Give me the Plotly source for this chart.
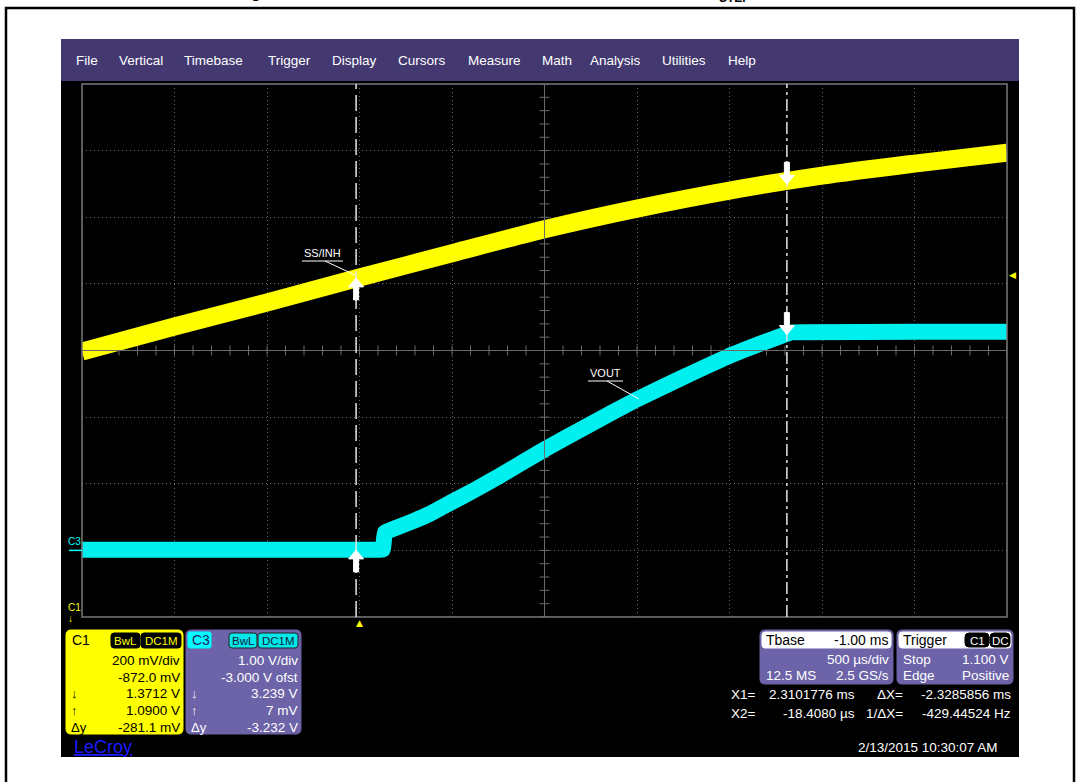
import plotly.graph_objects as go
import numpy as np

# ---------------- data ----------------
# Channel C1 (SS/INH), volts vs time in ms
t_c1 = [-1.5, -1.0, -0.5, 0.0, 0.5, 1.0, 1.5, 2.0, 2.5, 3.0, 3.5]
v_c1 = [0.869, 0.944, 1.016, 1.091, 1.164, 1.236, 1.298, 1.352, 1.397, 1.433, 1.466]

# Channel C3 (VOUT), volts vs time in ms
t_c3 = [-1.5, -1.0, -0.5, 0.0, 0.10, 0.125, 0.138, 0.19, 0.273, 0.381, 0.495, 0.624, 0.759,
        0.997, 1.246, 1.495, 1.743, 1.992, 2.165, 2.300, 2.330, 2.40, 3.0, 3.5]
v_c3 = [0.010, 0.010, 0.010, 0.010, 0.010, 0.010, 0.270, 0.330, 0.420, 0.550, 0.720, 0.910, 1.120,
        1.510, 1.890, 2.260, 2.590, 2.910, 3.100, 3.240, 3.270, 3.275, 3.280, 3.280]

# scope settings
time_per_div = 0.5          # ms/div
t_left = -1.5               # ms at left edge of grid
c1_vdiv, c1_offset = 0.2, -0.872
c3_vdiv, c3_offset = 1.0, -3.0
trig_level = 1.100

# cursors
cursor_x1 = 2.3101776       # ms
cursor_x2 = -0.0184080      # ms
c1_at_cursor = [1.3712, 1.0900]
c3_at_cursor = [3.239, 0.007]

menu_items = ["File", "Vertical", "Timebase", "Trigger", "Display", "Cursors",
              "Measure", "Math", "Analysis", "Utilities", "Help"]

# ---------------- layout helpers ----------------
W, H = 1080, 782
L, R, T, B = 82, 1007, 84, 617
FONT = "Liberation Sans"


def px(x):
    return (x - L) / (R - L)


def py(y):
    return (B - y) / (B - T)


def rrect(x0, y0, x1, y1, r):
    return (f"M{px(x0 + r)},{py(y0)} L{px(x1 - r)},{py(y0)} "
            f"Q{px(x1)},{py(y0)} {px(x1)},{py(y0 + r)} "
            f"L{px(x1)},{py(y1 - r)} Q{px(x1)},{py(y1)} {px(x1 - r)},{py(y1)} "
            f"L{px(x0 + r)},{py(y1)} Q{px(x0)},{py(y1)} {px(x0)},{py(y1 - r)} "
            f"L{px(x0)},{py(y0 + r)} Q{px(x0)},{py(y0)} {px(x0 + r)},{py(y0)} Z")


shapes = []
ann = []


def box(x0, y0, x1, y1, r, fill, line=None, layer="above"):
    shapes.append(dict(type="path", xref="paper", yref="paper", path=rrect(x0, y0, x1, y1, r),
                       fillcolor=fill, line=dict(color=line or fill, width=1), layer=layer))


def text(x, y, s, color="white", size=13.5, anchor="left", family=FONT, yanchor="middle"):
    ann.append(dict(xref="paper", yref="paper", x=px(x), y=py(y), text=s, showarrow=False,
                    xanchor=anchor, yanchor=yanchor, font=dict(color=color, size=size, family=family)))


# page frame, scope background, menu bar
shapes.append(dict(type="rect", xref="paper", yref="paper", x0=px(6), x1=px(1074), y0=py(8), y1=py(820),
                   line=dict(color="black", width=2.5), fillcolor="rgba(0,0,0,0)", layer="below"))
shapes.append(dict(type="rect", xref="paper", yref="paper", x0=px(61), x1=px(1019), y0=py(39), y1=py(757),
                   line=dict(width=0), fillcolor="black", layer="below"))
shapes.append(dict(type="rect", xref="paper", yref="paper", x0=px(61), x1=px(1019), y0=py(39), y1=py(81),
                   line=dict(width=0), fillcolor="#433870", layer="below"))

menu_x = [74, 117, 182, 266, 330, 396, 466, 540, 588, 660, 726]
for name, mx in zip(menu_items, menu_x):
    text(mx, 60, name, size=13.5)

# grid border and centre cross
shapes.append(dict(type="rect", xref="paper", yref="paper", x0=0, x1=1, y0=0, y1=1,
                   line=dict(color="#7a7a7a", width=1.5)))
t_center = t_left + 5 * time_per_div
shapes.append(dict(type="line", xref="x", yref="paper", x0=t_center, x1=t_center, y0=0, y1=1,
                   line=dict(color="#6a6a6a", width=1)))
shapes.append(dict(type="line", xref="paper", yref="paper", x0=0, x1=1, y0=0.5, y1=0.5,
                   line=dict(color="#6a6a6a", width=1)))

# cursors
shapes.append(dict(type="line", xref="x", yref="paper", x0=cursor_x2, x1=cursor_x2, y0=0, y1=1,
                   line=dict(color="#e6e6e6", width=1.5, dash="16px,6px")))
shapes.append(dict(type="line", xref="x", yref="paper", x0=cursor_x1, x1=cursor_x1, y0=0, y1=1,
                   line=dict(color="#e6e6e6", width=1.5, dash="12px,4px,3px,4px")))

UP = "M0,0 L-7.5,-9 L-2.5,-9 L-2.5,-22 L2.5,-22 L2.5,-9 L7.5,-9 Z"
DOWN = "M0,0 L-7.5,9 L-2.5,9 L-2.5,22 L2.5,22 L2.5,9 L7.5,9 Z"
for tx, v1, v3, p in [(cursor_x1, c1_at_cursor[0], c3_at_cursor[0], DOWN),
                      (cursor_x2, c1_at_cursor[1], c3_at_cursor[1], UP)]:
    for yr, v in [("y", v1), ("y2", v3)]:
        shapes.append(dict(type="path", xref="x", yref=yr, xsizemode="pixel", ysizemode="pixel",
                           xanchor=tx, yanchor=v, path=p, fillcolor="white",
                           line=dict(color="white", width=1)))

# trace labels with pointer lines
text(322, 253, "SS/INH", size=11, anchor="center")
shapes.append(dict(type="line", xref="paper", yref="paper", x0=px(302), x1=px(343), y0=py(261), y1=py(261),
                   line=dict(color="white", width=1)))
shapes.append(dict(type="line", xref="paper", yref="paper", x0=px(325), x1=px(355), y0=py(261), y1=py(275),
                   line=dict(color="white", width=1)))
text(605, 373, "VOUT", size=11, anchor="center")
shapes.append(dict(type="line", xref="paper", yref="paper", x0=px(588), x1=px(623), y0=py(381), y1=py(381),
                   line=dict(color="white", width=1)))
shapes.append(dict(type="line", xref="paper", yref="paper", x0=px(607), x1=px(639), y0=py(381), y1=py(399),
                   line=dict(color="white", width=1)))

# channel ground markers
text(66, 541, "C3", color="#00ffff", size=10)
shapes.append(dict(type="line", xref="paper", yref="y2", x0=px(69), x1=px(82), y0=0, y1=0,
                   line=dict(color="#00ffff", width=1.5)))
text(66, 607, "C1", color="#ffff00", size=10)
text(66, 618, "↓", color="#ffff00", size=10)

# trigger markers
ann.append(dict(xref="paper", yref="y", x=px(1012), y=trig_level, text="◀", showarrow=False,
                font=dict(color="#ffff00", size=9, family="DejaVu Sans"), xanchor="center", yanchor="middle"))
ann.append(dict(xref="x", yref="paper", x=0, y=py(623), text="▲", showarrow=False,
                font=dict(color="#ffff00", size=9, family="DejaVu Sans"), xanchor="center", yanchor="middle"))

# ---- C1 info box ----
box(66, 630, 183, 734, 5, "#ffff00")
text(70, 640, "C1", color="black", size=14)
box(111, 633, 140, 648, 3, "black")
text(125.5, 640.5, "BwL", color="#ffff00", size=11.5, anchor="center")
box(141, 633, 181, 648, 3, "black")
text(161, 640.5, "DC1M", color="#ffff00", size=11.5, anchor="center")
for yy, s in zip([660, 677, 693, 710, 727], ["200 mV/div", "-872.0 mV", "1.3712 V", "1.0900 V", "-281.1 mV"]):
    text(181.5, yy, s, color="black", size=13.5, anchor="right")
for yy, s in zip([693, 710, 727], ["↓", "↑", "Δy"]):
    text(69, yy, s, color="black", size=13)

# ---- C3 info box ----
PURP = "#6c63a8"
box(186, 630, 301, 734, 5, PURP)
box(188, 632, 211, 648, 2, "#00ffff")
text(190, 640, "C3", color="#2a2060", size=14)
box(229, 633, 257, 648, 3, "#00e8e8", line="#222")
text(243, 640.5, "BwL", color="#1a1a40", size=11.5, anchor="center")
box(258, 633, 298, 648, 3, "#00e8e8", line="#222")
text(278, 640.5, "DC1M", color="#1a1a40", size=11.5, anchor="center")
for yy, s in zip([660, 677, 693, 710, 727], ["1.00 V/div", "-3.000 V ofst", "3.239 V", "7 mV", "-3.232 V"]):
    text(299.5, yy, s, color="white", size=13.5, anchor="right")
for yy, s in zip([693, 710, 727], ["↓", "↑", "Δy"]):
    text(189, yy, s, color="white", size=13)

# ---- Timebase box ----
box(760, 630, 893, 684, 5, PURP)
box(762, 632, 891, 648, 3, "white")
text(764, 640, "Tbase", color="black", size=14)
text(890, 640, "-1.00 ms", color="black", size=14, anchor="right")
text(891, 659, "500 µs/div", size=13.5, anchor="right")
text(764, 675, "12.5 MS", size=13.5)
text(891, 675, "2.5 GS/s", size=13.5, anchor="right")

# ---- Trigger box ----
box(897, 630, 1013, 684, 5, PURP)
box(899, 632, 1011, 648, 3, "white")
text(901, 640, "Trigger", color="black", size=14)
box(965, 633, 989, 647, 4, "black")
text(977, 640.5, "C1", size=11.5, anchor="center")
box(990, 633, 1010, 647, 4, "black")
text(1000, 640.5, "DC", size=11.5, anchor="center")
text(901, 659, "Stop", size=13.5)
text(1011, 659, "1.100 V", size=13.5, anchor="right")
text(901, 675, "Edge", size=13.5)
text(1011, 675, "Positive", size=13.5, anchor="right")

# ---- cursor readouts ----
text(729, 694, "X1=", size=13.5)
text(857, 694, "2.3101776 ms", size=13.5, anchor="right")
text(905, 694, "ΔX=", size=13.5, anchor="right")
text(1013, 694, "-2.3285856 ms", size=13.5, anchor="right")
text(729, 713, "X2=", size=13.5)
text(857, 713, "-18.4080 µs", size=13.5, anchor="right")
text(905, 713, "1/ΔX=", size=13.5, anchor="right")
text(1013, 713, "-429.44524 Hz", size=13.5, anchor="right")
text(1000, 747, "2/13/2015 10:30:07 AM", size=13.5, anchor="right")
text(72, 747, "<u>LeCroy</u>", color="#1c1cff", size=18)

# clipped caption fragments at the very top of the page
text(256, 3, "<b>g</b>", color="black", size=16, anchor="center", yanchor="bottom")
text(734, 7, "<b>STEP</b>", color="black", size=12, anchor="center", yanchor="bottom")

# ---------------- figure ----------------
fig = go.Figure()

# centre-line tick marks (1/5 division), derived from the axis settings
tick_t = np.arange(t_left, t_left + 10 * time_per_div + 1e-9, time_per_div / 5)
c1_center = -c1_offset
tick_v = np.arange(c1_center - 4 * c1_vdiv, c1_center + 4 * c1_vdiv + 1e-9, c1_vdiv / 5)
fig.add_trace(go.Scatter(x=tick_t, y=[c1_center] * len(tick_t), mode="markers", hoverinfo="skip",
                         marker=dict(symbol="line-ns", size=7, line=dict(color="#6a6a6a", width=1)),
                         showlegend=False))
fig.add_trace(go.Scatter(x=[t_center] * len(tick_v), y=tick_v, mode="markers", hoverinfo="skip",
                         marker=dict(symbol="line-ew", size=7, line=dict(color="#6a6a6a", width=1)),
                         showlegend=False))

fig.add_trace(go.Scatter(x=t_c1, y=v_c1, mode="lines", name="C1",
                         line=dict(color="#ffff00", width=18, shape="spline", smoothing=0.8),
                         yaxis="y", showlegend=False))
fig.add_trace(go.Scatter(x=t_c3, y=v_c3, mode="lines", name="C3",
                         line=dict(color="#00f0f0", width=16, shape="spline", smoothing=0.35),
                         yaxis="y2", showlegend=False))

grid = dict(showgrid=True, gridcolor="#6a6a6a", griddash="1px,3px", gridwidth=1,
            showticklabels=False, zeroline=False, showline=False, ticks="")
fig.update_layout(
    width=W, height=H, autosize=False,
    margin=dict(l=L, r=W - R, t=T, b=H - B, pad=0),
    paper_bgcolor="white", plot_bgcolor="black",
    xaxis=dict(range=[t_left, t_left + 10 * time_per_div], tick0=t_left, dtick=time_per_div, **grid),
    yaxis=dict(range=[c1_center - 4 * c1_vdiv, c1_center + 4 * c1_vdiv],
               tick0=c1_center, dtick=c1_vdiv, **grid),
    yaxis2=dict(range=[-c3_offset - 4 * c3_vdiv, -c3_offset + 4 * c3_vdiv], overlaying="y",
                visible=False, showgrid=False, zeroline=False),
    shapes=shapes, annotations=ann, showlegend=False,
)

fig.write_html("out.html", config={"displayModeBar": False},
               post_script="document.body.style.margin='0';document.body.style.overflow='hidden';")
